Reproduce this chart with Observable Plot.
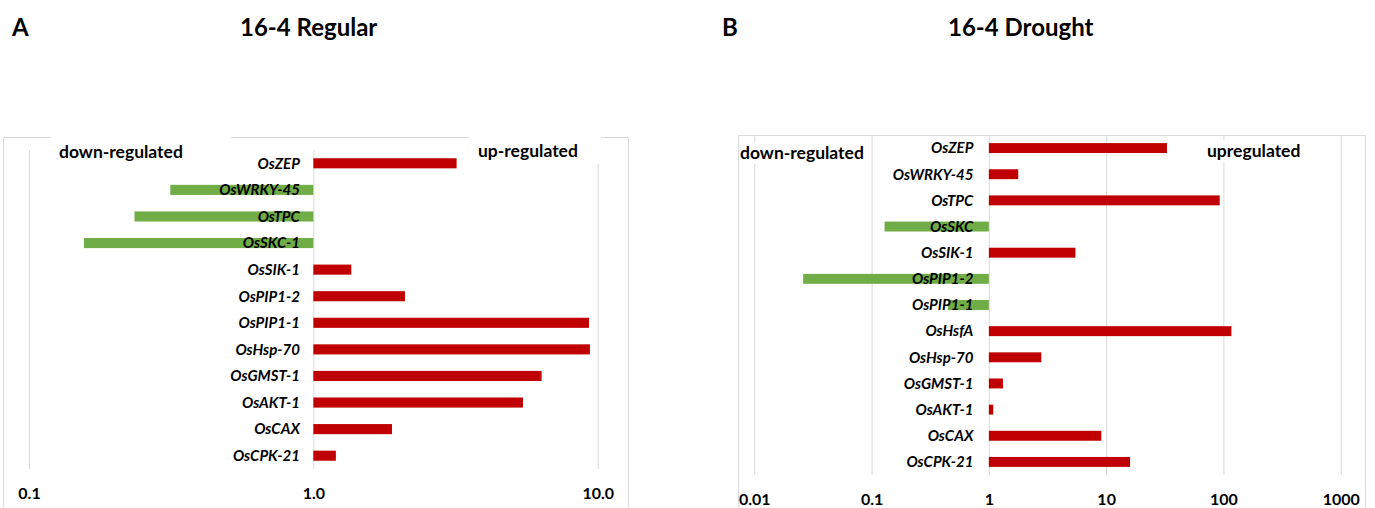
<!DOCTYPE html>
<html>
<head>
<meta charset="utf-8">
<script src="https://cdn.jsdelivr.net/npm/d3@7"></script>
<script src="https://cdn.jsdelivr.net/npm/@observablehq/plot@0.6"></script>
<style>
  html, body { margin: 0; padding: 0; background: #fff; }
  #page { position: relative; width: 1375px; height: 508px; overflow: hidden; font-family: Lato, "Open Sans", sans-serif; color: #000; }
  .abs { position: absolute; white-space: nowrap; }
  .title { font-size: 24px; font-weight: bold; line-height: 28px; }
  .reg { font-size: 17.5px; font-weight: bold; line-height: 22px; background: #fff; }
  .frame { position: absolute; border: 1px solid #d9d9d9; border-bottom: none; box-sizing: border-box; }
</style>
</head>
<body>
<div id="page">
  <div class="abs title" style="left:12px; top:13px;">A</div>
  <div class="abs title" style="left:240px; top:13px;">16-4 Regular</div>
  <div class="abs title" style="left:722px; top:13px;">B</div>
  <div class="abs title" style="left:948px; top:13px;">16-4 Drought</div>

  <div class="frame" style="left:3px; top:137px; width:626px; height:380px;"></div>
  <div class="frame" style="left:738px; top:135px; width:628px; height:380px;"></div>

  <div id="chartA" class="abs" style="left:3px; top:137px;"></div>
  <div id="chartB" class="abs" style="left:738px; top:135px;"></div>

  <div class="abs reg" style="left:51px; top:128px; width:180px; height:36px; padding-top:13px; box-sizing:border-box; padding-left:8px;">down-regulated</div>
  <div class="abs reg" style="left:469px; top:128px; width:132px; height:36px; padding-top:12px; box-sizing:border-box; padding-left:9px;">up-regulated</div>
  <div class="abs reg" style="left:740px; top:142px;">down-regulated</div>
  <div class="abs reg" style="left:1207px; top:140px;">upregulated</div>
</div>
<script>
const genesA = ["OsZEP","OsWRKY-45","OsTPC","OsSKC-1","OsSIK-1","OsPIP1-2","OsPIP1-1","OsHsp-70","OsGMST-1","OsAKT-1","OsCAX","OsCPK-21"];
const valuesA = [3.19, 0.314, 0.235, 0.156, 1.36, 2.10, 9.32, 9.39, 6.35, 5.46, 1.89, 1.2];
const ticksA = [0.1, 1, 10];
const tickLabelsA = ["0.1", "1.0", "10.0"];

const genesB = ["OsZEP","OsWRKY-45","OsTPC","OsSKC","OsSIK-1","OsPIP1-2","OsPIP1-1","OsHsfA","OsHsp-70","OsGMST-1","OsAKT-1","OsCAX","OsCPK-21"];
const valuesB = [33, 1.78, 93, 0.129, 5.47, 0.0261, 0.447, 117, 2.8, 1.32, 1.09, 9.1, 16];
const ticksB = [0.01, 0.1, 1, 10, 100, 1000];
const tickLabelsB = ["0.01", "0.1", "1", "10", "100", "1000"];

const UP = "#C00000";
const DOWN = "#70AD47";
const GRID = "#d9d9d9";

function panel(genes, values, ticks, tickLabels, opts) {
  const data = genes.map((g, i) => ({gene: g, value: values[i]}));
  return Plot.plot({
    width: opts.width,
    height: opts.height,
    marginLeft: opts.marginLeft,
    marginRight: opts.marginRight,
    marginTop: opts.marginTop,
    marginBottom: opts.marginBottom,
    style: {fontFamily: "Lato, 'Open Sans', sans-serif", background: "transparent", color: "#000", overflow: "visible"},
    x: {type: "log", domain: [ticks[0], ticks[ticks.length - 1]]},
    y: {type: "band", domain: genes, paddingInner: 0.62, paddingOuter: 0.31, round: false, axis: null},
    marks: [
      Plot.ruleX(ticks, {stroke: GRID, strokeWidth: 1}),
      Plot.barX(data, {filter: d => d.value >= 1, x1: 1, x2: "value", y: "gene", fill: UP}),
      Plot.barX(data, {filter: d => d.value < 1, x1: 1, x2: "value", y: "gene", fill: DOWN}),
      Plot.text(data, {x: 1, y: "gene", text: "gene", textAnchor: "end", dx: opts.labelDx,
        fontWeight: "bold", fontStyle: "italic", fontSize: 15, fill: "#000"}),
      Plot.axisX({ticks: ticks, tickFormat: d => tickLabels[ticks.indexOf(d)], tickSize: 0,
        tickPadding: 18, fontSize: 16, fontWeight: "bold", label: null, fill: "#000"})
    ]
  });
}

document.getElementById("chartA").appendChild(panel(genesA, valuesA, ticksA, tickLabelsA, {
  width: 625, height: 371, marginLeft: 26, marginRight: 30.3, marginTop: 13, marginBottom: 39, labelDx: -14
}));
document.getElementById("chartB").appendChild(panel(genesB, valuesB, ticksB, tickLabelsB, {
  width: 627, height: 373, marginLeft: 16.3, marginRight: 24.3, marginTop: 0, marginBottom: 33, labelDx: -16
}));
</script>
</body>
</html>
